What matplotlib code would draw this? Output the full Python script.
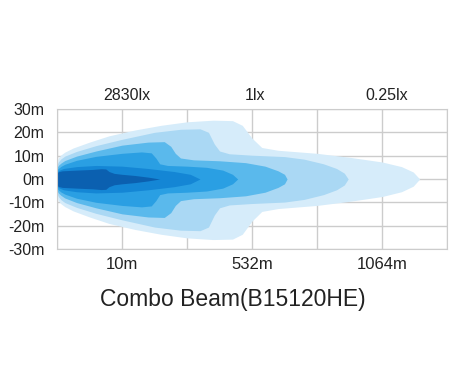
import numpy as np
import matplotlib
matplotlib.use("Agg")
from matplotlib import pyplot as plt

plt.rcParams['font.family'] = ['Liberation Sans', 'DejaVu Sans']

# beam outlines, outermost first: x in grid cells, upper half-width in metres
l1_x = [0, 0.02, 0.06, 0.12, 0.25, 0.5, 0.8, 1.2, 1.6, 2.0, 2.4, 2.7, 2.85, 3.0, 3.15, 3.4, 4.0, 4.5, 5.0, 5.3, 5.48, 5.58]
l1_y = [7.5, 9, 10.3, 11.5, 13.3, 15.8, 18.5, 21, 23, 24.5, 25.2, 25, 23, 17.5, 13.5, 12.3, 11, 9.3, 7.3, 5.3, 3, 0]
l2_x = [0, 0.02, 0.06, 0.12, 0.3, 0.6, 1.0, 1.5, 1.9, 2.2, 2.33, 2.42, 2.5, 2.65, 3.0, 3.5, 3.8, 4.1, 4.3, 4.42, 4.48]
l2_y = [6, 7.3, 8.6, 9.8, 11.8, 14.3, 17, 20, 21.3, 21.5, 20, 15, 12, 10.8, 10.2, 9.6, 8.5, 6.5, 4.5, 2.5, 0]
l3_x = [0, 0.02, 0.06, 0.12, 0.3, 0.6, 1.0, 1.4, 1.65, 1.75, 1.82, 1.9, 2.1, 2.5, 2.9, 3.2, 3.4, 3.5, 3.54]
l3_y = [4.8, 5.8, 6.8, 7.9, 9.8, 12, 14.5, 15.8, 16, 14, 11, 9, 8.2, 7.8, 7, 5.5, 3.5, 2, 0]
l4_x = [0, 0.02, 0.06, 0.12, 0.3, 0.6, 1.0, 1.3, 1.45, 1.52, 1.58, 1.7, 2.0, 2.3, 2.55, 2.7, 2.78]
l4_y = [3.8, 4.5, 5.4, 6.3, 8, 9.7, 11, 11.6, 11.2, 9, 6.5, 5.8, 5.5, 5, 3.8, 2, 0]
l5_x = [0, 0.03, 0.1, 0.3, 0.6, 1.0, 1.4, 1.8, 2.05, 2.2]
l5_y = [3, 3.7, 4.5, 5.3, 5.8, 5.5, 4.5, 3.2, 2, 0]
l6_x = [0, 0.02, 0.08, 0.3, 0.55, 0.68, 0.75, 0.8, 0.88, 1.0, 1.2, 1.4, 1.58]
l6_y = [2.5, 3.1, 3.5, 3.8, 4.1, 4.4, 4.3, 3.2, 2.4, 2.0, 1.5, 0.8, 0]

layer_colors = ["#d6ecfa", "#aad8f4", "#5ab9ec", "#2a9fe3", "#1486d5", "#0b60b0"]

y_ticks = [30, 20, 10, 0, -10, -20, -30]
y_labels = ["30m", "20m", "10m", "0m", "-10m", "-20m", "-30m"]
dist_labels = ["10m", "532m", "1064m"]
lux_labels = ["2830lx", "1lx", "0.25lx"]
title = "Combo Beam(B15120HE)"

fig = plt.figure(figsize=(4.6, 3.87), dpi=100)
ax = fig.add_axes([0.1239, 0.3566, 0.8478, 0.3618])

layers = [(l1_x, l1_y), (l2_x, l2_y), (l3_x, l3_y), (l4_x, l4_y), (l5_x, l5_y), (l6_x, l6_y)]
for (xs, ys), c in zip(layers, layer_colors):
    xs = np.array(xs)
    ys = np.array(ys)
    ax.fill_between(xs, -ys * 1.03, ys, color=c, lw=0, zorder=2)

ax.set_xlim(0, 6)
ax.set_ylim(-30, 30)
ax.set_xticks(range(7), minor=True)
ax.set_xticks([1, 3, 5])
ax.set_xticklabels(dist_labels)
ax.set_yticks(y_ticks)
ax.set_yticklabels(y_labels)
ax.grid(True, which='both', color="#cccccc", lw=1, zorder=0)
ax.set_axisbelow(True)
for s in ax.spines.values():
    s.set_color("#cccccc")
ax.tick_params(which='both', length=0, colors="#222222")
ax.tick_params(axis='x', pad=6, labelsize=12)
ax.tick_params(axis='y', pad=9, labelsize=11.5)

top = ax.twiny()
top.set_xlim(0, 6)
top.set_xticks([1.07, 3.05, 5.07])
top.set_xticklabels(lux_labels)
top.tick_params(length=0, labelsize=11.5, colors="#222222", pad=4)
for s in top.spines.values():
    s.set_visible(False)

fig.text(0.507, 0.225, title, ha='center', va='center', fontsize=16.5, color="#222222")

fig.savefig("out.png", dpi=100)
